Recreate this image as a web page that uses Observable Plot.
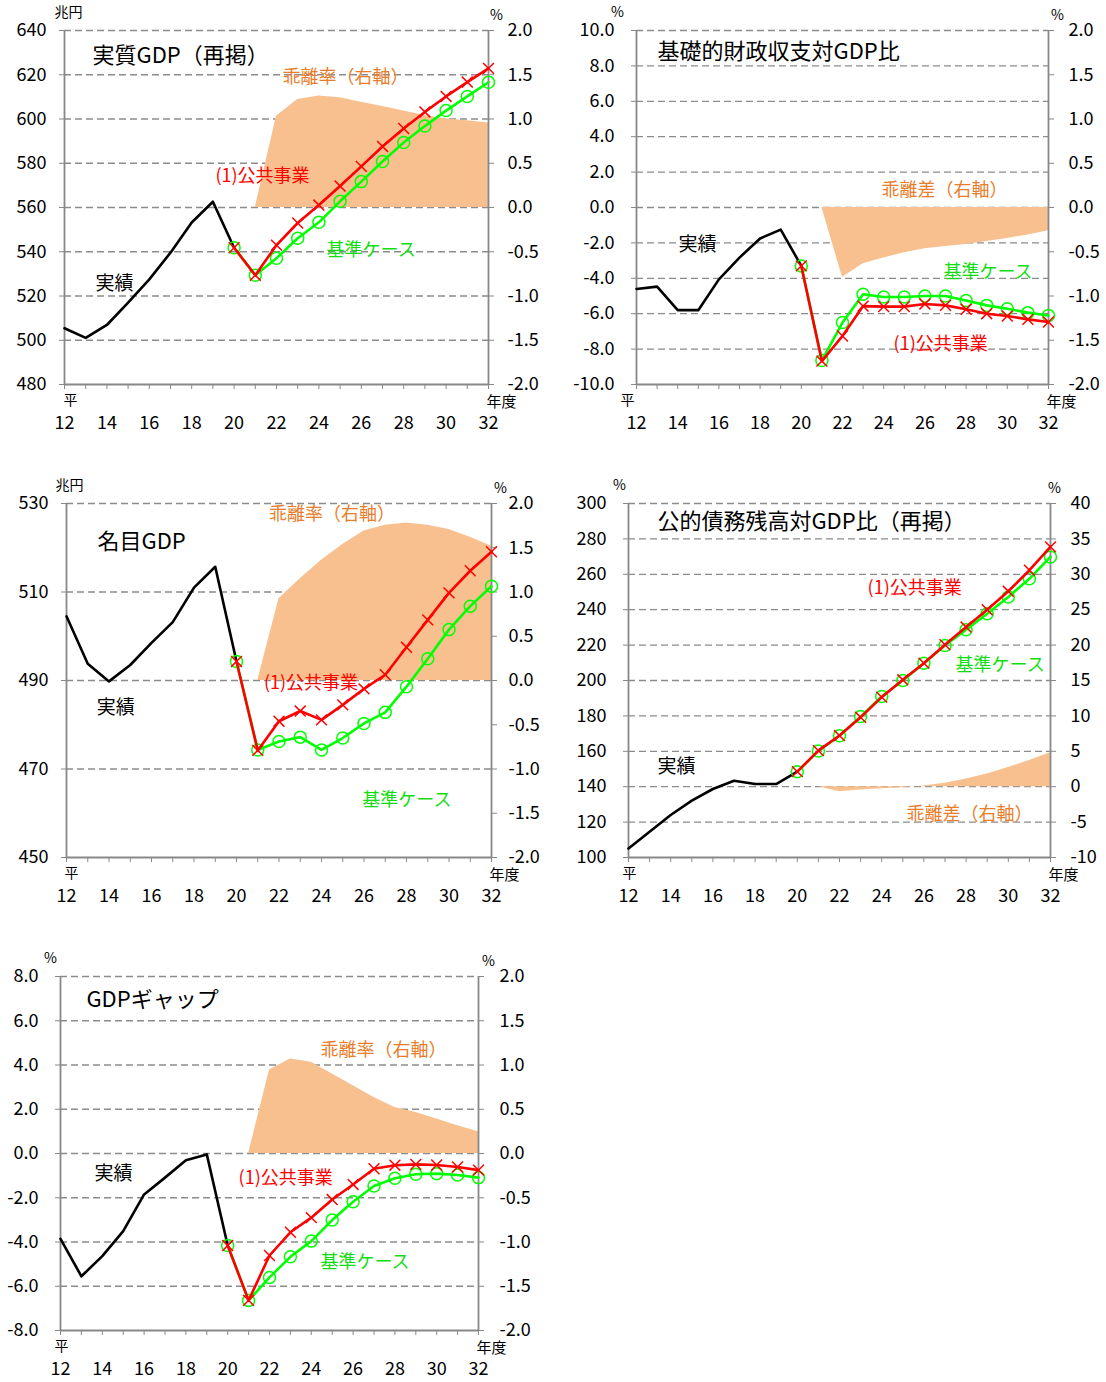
<!DOCTYPE html>
<html><head><meta charset="utf-8">
<script src="https://cdn.jsdelivr.net/npm/d3@7"></script>
<script src="https://cdn.jsdelivr.net/npm/@observablehq/plot@0.6"></script>
<style>
body{margin:0;background:#fff;}
#root{position:relative;width:1106px;height:1382px;overflow:hidden;background:#fff;}
#root svg{position:absolute;}
</style></head><body><div id="root"></div>
<script>
// ---- categories (fiscal years, Heisei) ----
const yearsActual = [12,13,14,15,16,17,18,19,20];
const yearsProj = [20,21,22,23,24,25,26,27,28,29,30,31,32];
const yearsDev = [21,22,23,24,25,26,27,28,29,30,31,32];
const xTicks = [12,13,14,15,16,17,18,19,20,21,22,23,24,25,26,27,28,29,30,31,32];

// ---- 実質GDP（再掲） ----
const realActual = [505.4,501.1,506.9,517.0,527.5,539.6,553.2,562.6,541.8];
const realPublic = [541.8,529.4,543.0,553.0,561.1,569.7,578.6,587.6,595.7,603.2,610.2,616.7,622.9];
const realBase   = [541.8,529.4,537.1,546.1,553.3,562.8,571.7,580.8,589.4,596.8,603.8,610.2,616.6];
const realDev    = [0,1.03,1.22,1.26,1.24,1.19,1.14,1.09,1.04,1.00,0.98,0.955];
const realLeftTicks = [480,500,520,540,560,580,600,620,640];
const rateTicks = [-2.0,-1.5,-1.0,-0.5,0.0,0.5,1.0,1.5,2.0];

// ---- 基礎的財政収支対GDP比 ----
const pbActual = [-4.6,-4.47,-5.8,-5.8,-4.06,-2.83,-1.75,-1.25,-3.3];
const pbPublic = [-3.3,-8.68,-7.26,-5.57,-5.6,-5.6,-5.45,-5.53,-5.75,-6.0,-6.13,-6.32,-6.47];
const pbBase   = [-3.3,-8.64,-6.5,-4.9,-5.06,-5.06,-5.0,-5.0,-5.25,-5.53,-5.72,-5.94,-6.1];
const pbDev    = [0,-0.79,-0.636,-0.572,-0.512,-0.467,-0.44,-0.418,-0.384,-0.35,-0.31,-0.264];
const pbLeftTicks = [-10,-8,-6,-4,-2,0,2,4,6,8,10];

// ---- 名目GDP ----
const nomActual = [504.5,493.8,489.8,493.5,498.5,503.2,511.0,515.7,494.3];
const nomPublic = [494.3,474.2,480.8,483.1,481.1,484.5,488.1,491.3,497.5,503.7,509.8,514.8,519.1];
const nomBase   = [494.3,474.3,476.2,477.2,474.3,477.0,480.3,482.8,488.6,494.9,501.5,506.8,511.3];
const nomDev    = [0,0.925,1.15,1.36,1.536,1.69,1.755,1.78,1.755,1.706,1.62,1.517];
const nomLeftTicks = [450,470,490,510,530];

// ---- 公的債務残高対GDP比（再掲） ----
const debtActual = [105.1,114.5,124.0,132.1,138.7,143.4,141.5,141.5,148.5];
const debtPublic = [148.5,160.4,168.9,179.2,190.6,200.4,209.8,220.2,230.2,240.0,250.4,262.3,275.5];
const debtBase   = [148.5,160.2,168.8,179.6,191.0,200.0,209.8,219.8,228.7,237.7,247.2,257.5,269.8];
const debtDev    = [0,-0.7,-0.47,-0.28,-0.14,0.1,0.5,1.1,1.8,2.7,3.7,4.8];
const debtLeftTicks = [100,120,140,160,180,200,220,240,260,280,300];
const debtRightTicks = [-10,-5,0,5,10,15,20,25,30,35,40];

// ---- GDPギャップ ----
const gapActual = [-3.86,-5.55,-4.64,-3.51,-1.85,-1.09,-0.31,-0.04,-4.16];
const gapPublic = [-4.16,-6.64,-4.61,-3.56,-2.9,-2.08,-1.4,-0.69,-0.53,-0.49,-0.52,-0.61,-0.75];
const gapBase   = [-4.16,-6.64,-5.6,-4.67,-3.96,-3.01,-2.18,-1.47,-1.12,-0.94,-0.91,-0.97,-1.09];
const gapDev    = [0,0.943,1.068,1.03,0.898,0.766,0.634,0.52,0.464,0.389,0.313,0.245];
const gapLeftTicks = [-8,-6,-4,-2,0,2,4,6,8];

const FONT = '"Noto Sans CJK JP","Noto Sans",sans-serif';
const C_ORANGE = "#E87E2C", C_RED = "#FF0000", C_GREEN = "#11DD11", C_LINEGREEN = "#00FF00";
const rows = (xs, vs) => xs.map((x, i) => ({x, v: vs[i]}));

function panel(cfg) {
  const mL = 70, mR = 70, mT = 32, mB = 60;
  const width = cfg.x1 - cfg.x0 + mL + mR;
  const height = cfg.y1 - cfg.y0 + mT + mB;
  const lMin = d3.min(cfg.leftTicks), lMax = d3.max(cfg.leftTicks);
  const rMin = d3.min(cfg.rightTicks), rMax = d3.max(cfg.rightTicks);
  const toL = r => lMin + (r - rMin) / (rMax - rMin) * (lMax - lMin);
  const toR = l => rMin + (l - lMin) / (lMax - lMin) * (rMax - rMin);
  const clean = v => Math.abs(v) < 1e-9 ? 0 : v;
  const marks = [
    Plot.gridY(cfg.leftTicks.filter(t => t !== lMin), {stroke: "#8c8c8c", strokeOpacity: 1, strokeWidth: 1.3, strokeDasharray: "7,4"}),
    Plot.areaY(rows(yearsDev, cfg.dev), {x: "x", y1: () => toL(0), y2: d => toL(d.v), fill: "#F8C08E"}),
    Plot.ruleX([12, 32], {stroke: "#888", strokeWidth: 1.8}),
    Plot.ruleY([lMin], {stroke: "#888", strokeWidth: 1.8}),
    Plot.axisY(cfg.leftTicks, {anchor: "left", tickSize: 5, tickPadding: cfg.lPad, stroke: "#888", fill: "#000", tickFormat: cfg.lFmt, label: null, fontSize: 18}),
    Plot.axisY(cfg.rightTicks.map(toL), {anchor: "right", tickSize: 5, tickPadding: cfg.rPad, stroke: "#888", fill: "#000", tickFormat: d => cfg.rFmt(clean(toR(d))), label: null, fontSize: 18}),
    Plot.axisX(xTicks, {anchor: "bottom", tickSize: 5, tickPadding: 27, stroke: "#888", fill: "#000", tickFormat: d => d % 2 === 0 ? String(d) : "", label: null, fontSize: 18}),
    Plot.line(rows(yearsActual, cfg.actual), {x: "x", y: "v", stroke: "#000", strokeWidth: 2.6}),
    Plot.line(rows(yearsProj, cfg.base), {x: "x", y: "v", stroke: C_LINEGREEN, strokeWidth: 2.6}),
    Plot.dot(rows(yearsProj, cfg.base), {x: "x", y: "v", r: 6, stroke: C_LINEGREEN, strokeWidth: 1.5, fill: "none"}),
    Plot.line(rows(yearsProj, cfg.pub), {x: "x", y: "v", stroke: C_RED, strokeWidth: 2.6}),
    Plot.dot(rows(yearsProj, cfg.pub), {x: "x", y: "v", r: 5, symbol: "times", stroke: C_RED, strokeWidth: 1.5}),
    Plot.text([{x: 12, y: lMin, t: "平"}], {x: "x", y: "y", text: "t", dx: cfg.heiDx, dy: 16, fontSize: 14}),
    Plot.text([{x: 32, y: lMin, t: "年度"}], {x: "x", y: "y", text: "t", dx: 13, dy: cfg.nendoDy, fontSize: 15}),
    Plot.text([{x: 12, y: lMax, t: cfg.lUnit}], {x: "x", y: "y", text: "t", dx: cfg.lUnitDx, dy: -18, fontSize: 14}),
    Plot.text([{x: 32, y: lMax, t: "%"}], {x: "x", y: "y", text: "t", dx: cfg.rUnitDx, dy: -15, fontSize: 14}),
    Plot.text(cfg.labels, {x: "x", y: "y", text: "t", fill: "c", fontSize: "s", textAnchor: "start"})
  ];
  const svg = Plot.plot({
    width, height, marginLeft: mL, marginRight: mR, marginTop: mT, marginBottom: mB,
    x: {domain: [12, 32], axis: null},
    y: {domain: [lMin, lMax], axis: null},
    style: {fontFamily: FONT, fontSize: "18px", color: "#000", background: "transparent", overflow: "visible"},
    marks
  });
  svg.style.left = (cfg.x0 - mL) + "px";
  svg.style.top = (cfg.y0 - mT) + "px";
  document.getElementById("root").appendChild(svg);
}

const f1 = d => d.toFixed(1), f0 = d => String(d);

panel({x0: 64, x1: 488, y0: 30, y1: 384, leftTicks: realLeftTicks, rightTicks: rateTicks,
  lFmt: f0, rFmt: f1, lPad: 13, rPad: 14, heiDx: 6, nendoDy: 18, lUnit: "兆円", lUnitDx: 4, rUnitDx: 8,
  actual: realActual, pub: realPublic, base: realBase, dev: realDev,
  labels: [
    {t: "実質GDP（再掲）", x: 13.32, y: 628.7, c: "#000", s: 22},
    {t: "乖離率（右軸）", x: 22.28, y: 618.8, c: C_ORANGE, s: 18},
    {t: "(1)公共事業", x: 19.12, y: 574, c: C_RED, s: 18},
    {t: "基準ケース", x: 24.36, y: 540.6, c: C_GREEN, s: 18},
    {t: "実績", x: 13.46, y: 525.6, c: "#000", s: 19}
  ]});

panel({x0: 636, x1: 1048, y0: 30, y1: 384, leftTicks: pbLeftTicks, rightTicks: rateTicks,
  lFmt: f1, rFmt: f1, lPad: 17, rPad: 15, heiDx: -9, nendoDy: 18, lUnit: "%", lUnitDx: -19, rUnitDx: 9,
  actual: pbActual, pub: pbPublic, base: pbBase, dev: pbDev,
  labels: [
    {t: "基礎的財政収支対GDP比", x: 13.02, y: 8.76, c: "#000", s: 22},
    {t: "乖離差（右軸）", x: 23.89, y: 0.96, c: C_ORANGE, s: 18},
    {t: "実績", x: 14.04, y: -2.09, c: "#000", s: 19},
    {t: "基準ケース", x: 26.9, y: -3.67, c: C_GREEN, s: 18},
    {t: "(1)公共事業", x: 24.48, y: -7.74, c: C_RED, s: 18}
  ]});

panel({x0: 66, x1: 491, y0: 503, y1: 857, leftTicks: nomLeftTicks, rightTicks: rateTicks,
  lFmt: f0, rFmt: f1, lPad: 13, rPad: 12, heiDx: 5, nendoDy: 18, lUnit: "兆円", lUnitDx: 3, rUnitDx: 9,
  actual: nomActual, pub: nomPublic, base: nomBase, dev: nomDev,
  labels: [
    {t: "名目GDP", x: 13.46, y: 521.4, c: "#000", s: 22},
    {t: "乖離率（右軸）", x: 21.53, y: 527.5, c: C_ORANGE, s: 18},
    {t: "(1)公共事業", x: 21.29, y: 489.3, c: C_RED, s: 18},
    {t: "実績", x: 13.42, y: 483.7, c: "#000", s: 19},
    {t: "基準ケース", x: 25.92, y: 462.9, c: C_GREEN, s: 18}
  ]});

panel({x0: 628, x1: 1050, y0: 503, y1: 857, leftTicks: debtLeftTicks, rightTicks: debtRightTicks,
  lFmt: f0, rFmt: f0, lPad: 17, rPad: 15, heiDx: 1, nendoDy: 18, lUnit: "%", lUnitDx: -9, rUnitDx: 4,
  actual: debtActual, pub: debtPublic, base: debtBase, dev: debtDev,
  labels: [
    {t: "公的債務残高対GDP比（再掲）", x: 13.37, y: 289.8, c: "#000", s: 22},
    {t: "(1)公共事業", x: 23.33, y: 252, c: C_RED, s: 18},
    {t: "基準ケース", x: 27.5, y: 208.5, c: C_GREEN, s: 18},
    {t: "実績", x: 13.37, y: 151.4, c: "#000", s: 19},
    {t: "乖離差（右軸）", x: 25.17, y: 124.3, c: C_ORANGE, s: 18}
  ]});

panel({x0: 60, x1: 478, y0: 976, y1: 1330, leftTicks: gapLeftTicks, rightTicks: rateTicks,
  lFmt: f1, rFmt: f1, lPad: 17, rPad: 16, heiDx: 1, nendoDy: 18, lUnit: "%", lUnitDx: -10, rUnitDx: 10,
  actual: gapActual, pub: gapPublic, base: gapBase, dev: gapDev,
  labels: [
    {t: "GDPギャップ", x: 13.24, y: 6.96, c: "#000", s: 22},
    {t: "乖離率（右軸）", x: 24.44, y: 4.66, c: C_ORANGE, s: 18},
    {t: "実績", x: 13.63, y: -0.9, c: "#000", s: 19},
    {t: "(1)公共事業", x: 20.52, y: -1.13, c: C_RED, s: 18},
    {t: "基準ケース", x: 24.44, y: -4.93, c: C_GREEN, s: 18}
  ]});
</script></body></html>
